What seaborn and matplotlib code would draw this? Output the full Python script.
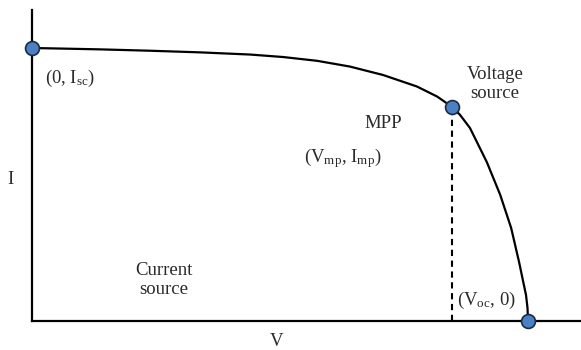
import matplotlib
matplotlib.use("Agg")
import matplotlib.pyplot as plt
import seaborn as sns
import pandas as pd

# I-V characteristic of a PV cell (normalised: V / Voc, I / Isc)
voltage = [0.0, 0.0565, 0.137, 0.238, 0.339, 0.440, 0.506, 0.575, 0.641,
           0.708, 0.776, 0.817, 0.847, 0.863, 0.883, 0.917, 0.944, 0.966,
           0.982, 0.996, 0.999, 1.0]
current = [1.0, 0.998, 0.995, 0.990, 0.984, 0.976, 0.967, 0.953, 0.932,
           0.901, 0.859, 0.822, 0.784, 0.755, 0.707, 0.582, 0.462, 0.341,
           0.216, 0.095, 0.048, 0.0]

# Characteristic points: short circuit, maximum power point, open circuit
point_names = ["Isc", "MPP", "Voc"]
point_v = [0.0, 0.847, 1.0]
point_i = [1.0, 0.784, 0.0]

curve = pd.DataFrame({"V": voltage, "I": current})
points = pd.DataFrame({"name": point_names, "V": point_v, "I": point_i})

sns.set_style("white")
plt.rcParams["font.family"] = ["Liberation Serif", "DejaVu Serif"]
plt.rcParams["mathtext.default"] = "regular"

W, H = 581, 350
fig = plt.figure(figsize=(W / 100, H / 100), dpi=100)
ax = fig.add_axes([32 / W, (H - 321) / H, (W - 32) / W, (321 - 10) / H])

sns.lineplot(data=curve, x="V", y="I", ax=ax, color="black", lw=1.6,
             sort=False, estimator=None)
ax.lines[-1].set_solid_joinstyle("round")

mpp = points[points["name"] == "MPP"].iloc[0]
ax.vlines(mpp["V"], 0, mpp["I"], colors="black", lw=1.5,
          linestyles=(0, (3, 2.2)))

sns.scatterplot(data=points, x="V", y="I", ax=ax, s=100, color="#4a80c4",
                edgecolor="#1c2b42", linewidth=1.2, zorder=5, clip_on=False)

ax.set_xlim(0, (W - 32) / 496)
ax.set_ylim(0, (321 - 10) / 273)
ax.set_xticks([])
ax.set_yticks([])
ax.set_xlabel("")
ax.set_ylabel("")
for side in ("top", "right"):
    ax.spines[side].set_visible(False)
for side in ("left", "bottom"):
    ax.spines[side].set_color("black")
    ax.spines[side].set_linewidth(1.6)

fs = 13.5


def put(px, py, s, ha="center", va="center", **kw):
    fig.text(px / W, 1 - py / H, s, ha=ha, va=va, fontsize=fs,
             color="#2a2a2a", **kw)


put(45, 78, "(0, I$_{sc}$)", ha="left")
put(495, 84, "Voltage\nsource", linespacing=1.1)
put(383, 124, "MPP")
put(343, 158, "(V$_{mp}$, I$_{mp}$)")
put(164, 280, "Current\nsource", linespacing=1.1)
put(486, 300, "(V$_{oc}$, 0)")
put(277, 342, "V")
put(10, 180, "I")

fig.savefig("out.png", dpi=100)
